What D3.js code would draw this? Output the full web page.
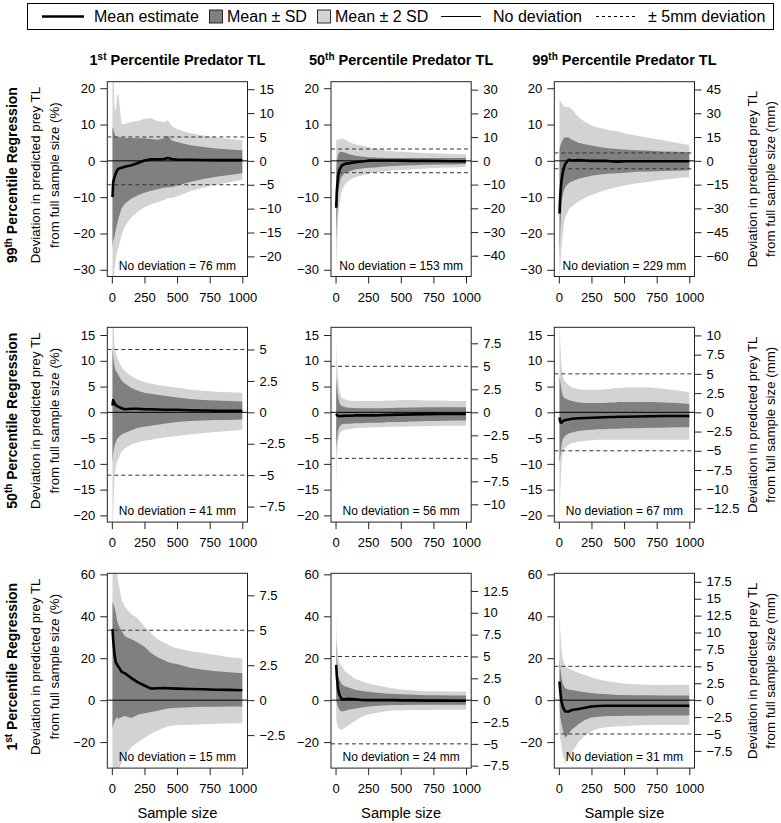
<!DOCTYPE html>
<html><head><meta charset="utf-8">
<script src="https://cdn.jsdelivr.net/npm/d3@7"></script>
<style>
body{margin:0;background:#fff}
svg{display:block}
text{font-family:"Liberation Sans",Arial,Helvetica,sans-serif;fill:#000}
</style>
</head><body>
<svg id="c" width="781" height="823"></svg>
<script>
// ---------------- DATA ----------------
const sampleSizes = [5,10,20,30,40,50,75,100,150,200,250,300,350,400,430,460,500,600,700,800,900,1000];
const xTicks = [0,250,500,750,1000];

const colPercentiles = [["1","st"],["50","th"],["99","th"]];
const rowPercentiles = [["99","th"],["50","th"],["1","st"]];
const noDeviationMM = [[76,153,229],[41,56,67],[15,24,31]];

const leftTicksRow1 = [-30,-20,-10,0,10,20];
const leftTicksRow2 = [-20,-15,-10,-5,0,5,10,15];
const leftTicksRow3 = [-20,0,20,40,60];

const rightTicks_r1c1 = [-20,-15,-10,-5,0,5,10,15];
const rightTicks_r1c2 = [-40,-30,-20,-10,0,10,20,30];
const rightTicks_r1c3 = [-60,-45,-30,-15,0,15,30,45];
const rightTicks_r2c1 = [-7.5,-5,-2.5,0,2.5,5];
const rightTicks_r2c2 = [-10,-7.5,-5,-2.5,0,2.5,5,7.5];
const rightTicks_r2c3 = [-12.5,-10,-7.5,-5,-2.5,0,2.5,5,7.5,10];
const rightTicks_r3c1 = [-2.5,0,2.5,5,7.5];
const rightTicks_r3c2 = [-7.5,-5,-2.5,0,2.5,5,7.5,10,12.5];
const rightTicks_r3c3 = [-7.5,-5,-2.5,0,2.5,5,7.5,10,12.5,15,17.5];

// deviation (%) : mean, mean±SD (hi1/lo1), mean±2SD (hi2/lo2)
const r1c1_mean = [-10,-6,-4.5,-3.5,-2.6,-2.2,-1.9,-1.6,-1.2,-0.6,0.1,0.4,0.4,0.5,0.8,0.5,0.35,0.3,0.25,0.2,0.2,0.2];
const r1c1_hi1  = [9,9,7.5,6.6,6.5,6.5,6.4,6.3,6.3,6.2,6.2,6.0,5.8,6.2,7.0,5.6,5.2,4.3,3.8,3.4,3.1,2.9];
const r1c1_lo1  = [-24,-22,-21,-19,-17.5,-16,-13,-11.8,-10.4,-9.5,-8.8,-8.2,-7.8,-7.4,-7.3,-7.2,-6.8,-5.8,-5.0,-4.4,-3.9,-3.4];
const r1c1_hi2  = [35,30,15,13.5,18,18.5,10,10.2,10.7,11,11.6,11.7,11,10.6,11.2,9.5,8.8,7.6,7.0,6.4,6.0,5.7];
const r1c1_lo2  = [-40,-38,-30,-27,-25,-24,-20.5,-18,-15.5,-14,-12.8,-12,-11.4,-10.8,-10.2,-10.2,-9.8,-8.4,-7.4,-6.6,-5.9,-5.2];

const r1c2_mean = [-12.9,-8.2,-4,-2.5,-1.8,-1.2,-0.8,-0.7,-0.4,-0.2,0.05,0.1,0.1,0.1,0.1,0.1,0.05,0,0,-0.05,-0.1,-0.1];
const r1c2_hi1  = [-3,0,1.8,2.4,2.5,2.5,2.2,1.9,1.4,1.2,1.0,0.9,0.85,0.8,0.8,0.8,0.8,0.8,0.8,0.8,0.8,0.8];
const r1c2_lo1  = [-22,-16,-9,-6.5,-5,-4.2,-3.3,-2.9,-2.4,-2.1,-1.9,-1.8,-1.65,-1.5,-1.45,-1.4,-1.3,-1.2,-1.1,-1.0,-1.0,-0.9];
const r1c2_hi2  = [5.6,5.8,5.8,5.9,6.1,6.2,5.8,5.2,4.6,4.2,3.8,3.4,3.1,2.8,2.7,2.6,2.5,2.3,2.1,2.0,1.9,1.8];
const r1c2_lo2  = [-31,-25,-16,-12,-9.5,-8,-6.3,-5.5,-4.5,-4,-3.6,-3.2,-3.0,-2.8,-2.7,-2.6,-2.5,-2.3,-2.1,-1.9,-1.8,-1.7];

const r1c3_mean = [-14.5,-10,-5.5,-3.2,-1.8,-0.8,0.3,0.1,0.2,0.1,0,0,0,-0.1,-0.2,-0.2,-0.1,-0.1,-0.1,-0.1,-0.1,-0.1];
const r1c3_hi1  = [3,4,5,5.8,6.3,6.5,6.4,5.8,5.0,4.6,4.2,3.9,3.6,3.4,3.3,3.2,3.1,2.9,2.8,2.6,2.5,2.4];
const r1c3_lo1  = [-27,-20,-12,-9.5,-8,-7.2,-6.2,-5.7,-4.9,-4.5,-4.1,-3.8,-3.6,-3.5,-3.5,-3.4,-3.3,-3.0,-2.9,-2.8,-2.7,-2.6];
const r1c3_hi2  = [17,16.5,16,15.5,15,14.8,14.8,14.3,12,10.8,9.8,9.2,8.8,8.3,8.2,8,7.6,6.9,6.3,5.7,5.0,4.4];
const r1c3_lo2  = [-40,-30,-24,-20,-17,-15.5,-13.5,-12.5,-11.2,-10.2,-9.4,-8.7,-8.1,-7.6,-7.4,-7.1,-6.8,-6.2,-5.7,-5.2,-4.8,-4.5];

const r2c1_mean = [1.3,2.4,1.8,1.4,1.2,1.1,0.8,0.6,0.7,0.7,0.6,0.6,0.55,0.5,0.5,0.5,0.5,0.4,0.35,0.3,0.3,0.3];
const r2c1_hi1  = [13,11,9,8,7.8,7.2,6.2,5.6,4.7,4.2,3.8,3.6,3.4,3.2,3.1,3.0,2.9,2.6,2.4,2.3,2.2,2.1];
const r2c1_lo1  = [-10,-8,-6.5,-5.8,-5.2,-4.9,-4.3,-4.0,-3.5,-3.0,-2.8,-2.6,-2.4,-2.2,-2.1,-2.0,-1.9,-1.7,-1.6,-1.5,-1.5,-1.4];
const r2c1_hi2  = [25,20,13,11.5,10.8,10,8.8,8,7,6.3,5.9,5.6,5.3,5.1,5.0,4.9,4.8,4.4,4.2,4.0,3.9,3.8];
const r2c1_lo2  = [-25,-20,-12.5,-10.5,-9.6,-9,-7.6,-7,-6.2,-5.8,-5.5,-5.3,-5.1,-4.9,-4.8,-4.7,-4.6,-4.3,-4.0,-3.8,-3.6,-3.4];

const r2c2_mean = [-0.3,-0.5,-0.7,-0.7,-0.7,-0.7,-0.65,-0.65,-0.6,-0.6,-0.6,-0.6,-0.55,-0.5,-0.5,-0.45,-0.45,-0.4,-0.35,-0.3,-0.3,-0.3];
const r2c2_hi1  = [7,5,3,1.8,1.4,1.2,1.0,0.9,0.85,0.8,0.8,0.8,0.8,0.85,0.85,0.9,0.9,0.95,1.0,1.0,1.0,1.0];
const r2c2_lo1  = [-7,-5.5,-3.5,-2.8,-2.5,-2.3,-2.2,-2.2,-2.1,-2.1,-2.0,-2.0,-2.0,-1.9,-1.9,-1.9,-1.9,-1.8,-1.7,-1.7,-1.6,-1.6];
const r2c2_hi2  = [14,10,6.5,4.2,3.2,2.8,2.5,2.3,2.2,2.2,2.2,2.2,2.2,2.3,2.3,2.3,2.4,2.4,2.3,2.3,2.2,2.2];
const r2c2_lo2  = [-14,-9.5,-5.5,-4.3,-3.8,-3.6,-3.4,-3.3,-3.1,-3.0,-3.0,-2.9,-2.9,-2.8,-2.8,-2.8,-2.8,-2.7,-2.7,-2.6,-2.6,-2.6];

const r2c3_mean = [-1.0,-1.8,-2.0,-1.7,-1.6,-1.5,-1.4,-1.25,-1.15,-1.1,-1.05,-1.0,-0.95,-0.9,-0.9,-0.85,-0.85,-0.8,-0.75,-0.7,-0.7,-0.7];
const r2c3_hi1  = [7,6.2,4.5,3.2,2.9,2.7,2.4,2.2,1.9,1.8,1.8,1.8,1.8,1.9,1.9,2.0,2.0,2.0,2.0,1.9,1.8,1.6];
const r2c3_lo1  = [-10,-8.8,-6.5,-5.2,-4.9,-4.5,-4.1,-3.9,-3.6,-3.5,-3.4,-3.3,-3.3,-3.2,-3.2,-3.2,-3.1,-3.1,-3.0,-3.0,-2.9,-2.9];
const r2c3_hi2  = [17,14,9,7,6.2,5.9,5.3,4.8,4.5,4.4,4.4,4.4,4.5,4.6,4.7,4.7,4.8,4.8,4.8,4.6,4.3,3.9];
const r2c3_lo2  = [-21,-16,-10,-7.8,-7.2,-6.8,-6.3,-6.0,-5.7,-5.5,-5.4,-5.3,-5.3,-5.3,-5.3,-5.3,-5.3,-5.3,-5.3,-5.3,-5.3,-5.3];

const r3c1_mean = [34,29,22,18,17,16,13.5,12.8,10.5,8.5,7,5.5,5.7,5.8,5.7,5.6,5.5,5.3,5.2,5.0,4.9,4.7];
const r3c1_hi1  = [47,46,44,42,38,36,33,30.5,29,27.5,25.5,22.5,20.5,19,18.2,17.6,17.2,15.5,14.5,13.8,13.3,12.8];
const r3c1_lo1  = [-14,-12,-10,-9,-8,-9,-8,-7.5,-8.5,-7,-6.2,-5.6,-5,-4.3,-4,-3.8,-3.6,-3.4,-3.2,-3.1,-3.0,-3.0];
const r3c1_hi2  = [80,72,65,62,60,56,48,44.5,41,39,35,32,29,27.5,26.5,25.5,24.8,23.5,22.5,21.5,20.5,20];
const r3c1_lo2  = [-40,-38,-36,-34,-34,-33,-30,-26.5,-22.5,-20,-18,-16,-14.5,-13.2,-12.6,-12.2,-12,-11.7,-11.5,-11.3,-11.1,-11];

const r3c2_mean = [16.8,11.3,5,2.5,1.3,0.5,0.4,0.6,0.4,0.1,0,0,0,0,0,0,-0.1,-0.1,-0.2,-0.2,-0.3,-0.3];
const r3c2_hi1  = [30,16,11.5,9.7,8.5,7.5,6.5,6,5,4.4,4,3.7,3.4,3.1,3.0,2.9,2.8,2.6,2.4,2.3,2.2,2.2];
const r3c2_lo1  = [2,-1.4,-3.5,-4.6,-5.2,-5.4,-5,-4.6,-4,-3.5,-3.0,-2.8,-2.6,-2.4,-2.3,-2.3,-2.3,-2.2,-2.2,-2.2,-2.2,-2.2];
const r3c2_hi2  = [41,27,21,18,16.8,16,13.5,12.5,10.2,9,8,7.3,6.6,6,5.7,5.4,5.1,4.6,4.3,4.2,4.1,4.1];
const r3c2_lo2  = [-8,-11,-13,-13.8,-14.1,-14,-13,-12,-9.8,-8,-6.8,-6.2,-5.6,-5.2,-5.0,-4.9,-4.8,-4.7,-4.7,-4.6,-4.6,-4.6];

const r3c3_mean = [8.9,5,-0.5,-3,-4.5,-5.4,-5.4,-4.7,-4.2,-3.6,-3.0,-2.8,-2.7,-2.7,-2.7,-2.7,-2.7,-2.7,-2.7,-2.7,-2.7,-2.7];
const r3c3_hi1  = [20,16,11,8,6.5,5.7,5,4.8,4.3,3.8,3.4,3.1,2.9,2.7,2.6,2.5,2.5,2.4,2.3,2.2,2.2,2.2];
const r3c3_lo1  = [-2,-7.8,-11,-14,-16,-18,-16,-14,-11.5,-9.5,-8.3,-7.9,-7.7,-7.6,-7.5,-7.5,-7.4,-7.4,-7.3,-7.3,-7.3,-7.3];
const r3c3_hi2  = [40,34,24,20,18,16.5,15,14.4,13,12,10.8,10,9.3,8.8,8.5,8.2,8,7.6,7.2,7.2,7.3,7.3];
const r3c3_lo2  = [-15,-18,-22,-26,-28,-30,-28,-25,-20,-17,-15,-13.5,-13,-12.8,-12.6,-12.5,-12.4,-12,-11.8,-11.7,-11.7,-11.7];

// ---------------- ASSEMBLY ----------------
const panels = [
  [{mean:r1c1_mean,hi1:r1c1_hi1,lo1:r1c1_lo1,hi2:r1c1_hi2,lo2:r1c1_lo2,rt:rightTicks_r1c1},
   {mean:r1c2_mean,hi1:r1c2_hi1,lo1:r1c2_lo1,hi2:r1c2_hi2,lo2:r1c2_lo2,rt:rightTicks_r1c2},
   {mean:r1c3_mean,hi1:r1c3_hi1,lo1:r1c3_lo1,hi2:r1c3_hi2,lo2:r1c3_lo2,rt:rightTicks_r1c3}],
  [{mean:r2c1_mean,hi1:r2c1_hi1,lo1:r2c1_lo1,hi2:r2c1_hi2,lo2:r2c1_lo2,rt:rightTicks_r2c1},
   {mean:r2c2_mean,hi1:r2c2_hi1,lo1:r2c2_lo1,hi2:r2c2_hi2,lo2:r2c2_lo2,rt:rightTicks_r2c2},
   {mean:r2c3_mean,hi1:r2c3_hi1,lo1:r2c3_lo1,hi2:r2c3_hi2,lo2:r2c3_lo2,rt:rightTicks_r2c3}],
  [{mean:r3c1_mean,hi1:r3c1_hi1,lo1:r3c1_lo1,hi2:r3c1_hi2,lo2:r3c1_lo2,rt:rightTicks_r3c1},
   {mean:r3c2_mean,hi1:r3c2_hi1,lo1:r3c2_lo1,hi2:r3c2_hi2,lo2:r3c2_lo2,rt:rightTicks_r3c2},
   {mean:r3c3_mean,hi1:r3c3_hi1,lo1:r3c3_lo1,hi2:r3c3_hi2,lo2:r3c3_lo2,rt:rightTicks_r3c3}]
];
const leftTicks = [leftTicksRow1,leftTicksRow2,leftTicksRow3];

// ---------------- LAYOUT ----------------
const yDomains = [[-31.85,21.8],[-21.3,16.5],[-32.4,60.5]];
const xDomain = [-34.8,1039.8];
const panelX = [107.3,331,554.3];
const panelY = [81.7,327.3,573.3];
const PW = 140.2, PH = 194.8;
const LIGHT = "#d3d3d3", DARK = "#808080";
const TICKFS = "13px";

const svg = d3.select("#c");
const fmt = v => (v < 0 ? "\u2212" : "") + Math.abs(v);

function supText(sel, base, sup, rest, fs, supfs){
  sel.append("tspan").text(base);
  sel.append("tspan").attr("font-size",supfs).attr("dy",-fs*0.38).text(sup);
  sel.append("tspan").attr("dy",fs*0.38).text(rest);
}

// ---- Legend ----
const lg = svg.append("g");
lg.append("rect").attr("x",27.5).attr("y",3.5).attr("width",746).attr("height",26)
  .attr("fill","#fff").attr("stroke","#000").attr("stroke-width",1);
const LY = 16.5;
lg.append("line").attr("x1",42).attr("x2",84).attr("y1",LY).attr("y2",LY).attr("stroke","#000").attr("stroke-width",2.6);
lg.append("rect").attr("x",209.5).attr("y",10).attr("width",13).attr("height",13).attr("fill",DARK).attr("stroke","#000").attr("stroke-width",0.8);
lg.append("rect").attr("x",317.5).attr("y",10).attr("width",13).attr("height",13).attr("fill",LIGHT).attr("stroke","#000").attr("stroke-width",0.8);
lg.append("line").attr("x1",441).attr("x2",481).attr("y1",LY).attr("y2",LY).attr("stroke","#000").attr("stroke-width",1);
lg.append("line").attr("x1",596).attr("x2",636).attr("y1",LY).attr("y2",LY).attr("stroke","#000").attr("stroke-width",1).attr("stroke-dasharray","3,3");
[[94,"Mean estimate"],[227,"Mean \u00b1 SD"],[335,"Mean \u00b1 2 SD"],[493,"No deviation"],[648,"\u00b1 5mm deviation"]]
  .forEach(([x,t]) => lg.append("text").attr("x",x).attr("y",LY).attr("dy","0.36em").attr("font-size","16px").text(t));

// ---- Panels ----
panels.forEach((row, r) => {
  row.forEach((p, c) => {
    const nd = noDeviationMM[r][c];
    const x0 = panelX[c], y0 = panelY[r];
    const g = svg.append("g").attr("transform",`translate(${x0},${y0})`);
    const x = d3.scaleLinear().domain(xDomain).range([0,PW]);
    const y = d3.scaleLinear().domain(yDomains[r]).range([PH,0]);
    const yR = d3.scaleLinear().domain(yDomains[r].map(v => v*nd/100)).range([PH,0]);
    const cid = `clip${r}${c}`;
    g.append("clipPath").attr("id",cid).append("rect").attr("width",PW).attr("height",PH);
    const plot = g.append("g").attr("clip-path",`url(#${cid})`);
    const rows = sampleSizes.map((n,i) => ({n, mean:p.mean[i], hi1:p.hi1[i], lo1:p.lo1[i], hi2:p.hi2[i], lo2:p.lo2[i]}));
    plot.append("path").datum(rows).attr("fill",LIGHT)
      .attr("d", d3.area().x(d=>x(d.n)).y0(d=>y(d.lo2)).y1(d=>y(d.hi2)));
    plot.append("path").datum(rows).attr("fill",DARK)
      .attr("d", d3.area().x(d=>x(d.n)).y0(d=>y(d.lo1)).y1(d=>y(d.hi1)));
    plot.append("line").attr("x1",0).attr("x2",PW).attr("y1",y(0)).attr("y2",y(0)).attr("stroke","#000").attr("stroke-width",1);
    [5,-5].forEach(mm => plot.append("line").attr("x1",0).attr("x2",PW)
      .attr("y1",yR(mm)).attr("y2",yR(mm)).attr("stroke","#333").attr("stroke-width",1).attr("stroke-dasharray","4,3"));
    plot.append("path").datum(rows).attr("fill","none").attr("stroke","#000").attr("stroke-width",2.6)
      .attr("stroke-linejoin","round")
      .attr("d", d3.line().x(d=>x(d.n)).y(d=>y(d.mean)));

    g.append("rect").attr("width",PW).attr("height",PH).attr("fill","none").attr("stroke","#222").attr("stroke-width",1);

    const la = g.append("g").call(d3.axisLeft(y).tickValues(leftTicks[r]).tickFormat(fmt).tickSize(7).tickPadding(5).tickSizeOuter(0));
    const ra = g.append("g").attr("transform",`translate(${PW},0)`)
      .call(d3.axisRight(yR).tickValues(p.rt).tickFormat(fmt).tickSize(7).tickPadding(5).tickSizeOuter(0));
    const ba = g.append("g").attr("transform",`translate(0,${PH})`)
      .call(d3.axisBottom(x).tickValues(xTicks).tickFormat(d3.format("d")).tickSize(7).tickPadding(9).tickSizeOuter(0));
    [la,ra,ba].forEach(a => {
      a.selectAll("text").attr("font-size",TICKFS).attr("font-family",null).attr("fill","#000");
      a.selectAll("line").attr("stroke","#222");
      a.select(".domain").remove();
    });
    g.append("text").attr("x",PW/2).attr("y",PH-11).attr("dy","0.36em").attr("text-anchor","middle")
      .attr("font-size","12px").text(`No deviation = ${nd} mm`);
  });
});

// ---- Column titles ----
colPercentiles.forEach(([b,s],c) => {
  const t = svg.append("text").attr("x",panelX[c]+PW/2).attr("y",60).attr("dy","0.36em")
    .attr("text-anchor","middle").attr("font-weight","bold").attr("font-size","14.5px");
  supText(t,b,s," Percentile Predator TL",14.5,"10px");
});

// ---- Row labels ----
rowPercentiles.forEach(([b,s],r) => {
  const cy = panelY[r] + PH/2 - 4;
  const t = svg.append("text").attr("transform",`translate(12,${cy}) rotate(-90)`).attr("dy","0.36em")
    .attr("text-anchor","middle").attr("font-weight","bold").attr("font-size","14px");
  supText(t,b,s," Percentile Regression",14,"10px");
  svg.append("text").attr("transform",`translate(35,${cy}) rotate(-90)`).attr("dy","0.36em")
    .attr("text-anchor","middle").attr("font-size","13.3px").text("Deviation in predicted prey TL");
  svg.append("text").attr("transform",`translate(54,${cy}) rotate(-90)`).attr("dy","0.36em")
    .attr("text-anchor","middle").attr("font-size","13.3px").text("from full sample size (%)");
  const ry = panelY[r] + PH/2;
  svg.append("text").attr("transform",`translate(752,${ry}) rotate(-90)`).attr("dy","0.36em")
    .attr("text-anchor","middle").attr("font-size","13.3px").text("Deviation in predicted prey TL");
  svg.append("text").attr("transform",`translate(770,${ry}) rotate(-90)`).attr("dy","0.36em")
    .attr("text-anchor","middle").attr("font-size","13.3px").text("from full sample size (mm)");
});

// ---- X titles ----
panelX.forEach(px => {
  svg.append("text").attr("x",px+PW/2).attr("y",813).attr("dy","0.36em").attr("text-anchor","middle")
    .attr("font-size","14.7px").text("Sample size");
});
</script>
</body></html>
